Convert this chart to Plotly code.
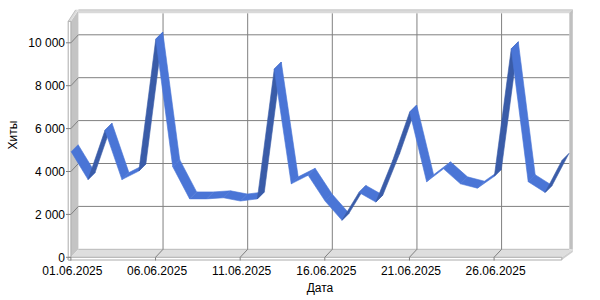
import pandas as pd
import plotly.graph_objects as go

# ---------------- data ----------------
dates = pd.date_range("2025-06-01", "2025-06-30", freq="D")
hits = [4900, 3600, 5900, 3600, 4000, 10150, 4200, 2700, 2700, 2750,
        2600, 2700, 8750, 3400, 3800, 2600, 1700, 3000, 2550, 4500,
        6750, 3500, 4100, 3400, 3200, 3750, 9700, 3500, 3000, 4500]
y_tick_values = [0, 2000, 4000, 6000, 8000, 10000]
y_tick_labels = ["0", "2 000", "4 000", "6 000", "8 000", "10 000"]
x_tick_dates = list(dates[::5])
x_tick_labels = [d.strftime("%d.%m.%Y") for d in x_tick_dates]
y_max = 11000

days = [d.day for d in dates]
x_tick_days = [d.day for d in x_tick_dates]

# ---------------- geometry of the pseudo-3D box (pixels) ----------------
W, H = 600, 300
ML, MR, MT, MB = 66, 26, 8, 38
BACK_L, BACK_R, BACK_B = 78.4, 569.3, 249.3
PPU = 21.45 / 1000.0
PPD = (BACK_R - BACK_L) / (days[-1] - days[0])
DX, DY = 7.5, 8.0          # depth: front plane is left/down of back wall
SLAB = 2.7                 # thickness of the wall edge
BORDER = 3.5               # thickness of back wall border
x_first, x_last = days[0], days[-1]


def X(d, px=0.0):
    return d + px / PPD


def Y(v, px=0.0):
    return v + px / PPU


x_range = [X(x_first, -(BACK_L - ML)), X(x_last, (W - MR) - BACK_R)]
y_range = [Y(0, -((H - MB) - BACK_B)), Y(0, BACK_B - MT)]

shapes = []


def poly(pts, fill, line=None, width=0):
    path = "M " + " L ".join(f"{x:.5f},{y:.3f}" for x, y in pts) + " Z"
    shapes.append(dict(type="path", path=path, xref="x", yref="y",
                       fillcolor=fill, layer="below",
                       line=dict(color=line or fill, width=width)))


def seg(p0, p1, color, width=1):
    shapes.append(dict(type="line", xref="x", yref="y", layer="below",
                       x0=p0[0], y0=p0[1], x1=p1[0], y1=p1[1],
                       line=dict(color=color, width=width)))


GRID = "#808080"
EDGE = "#ababab"

# back wall top border and right border
poly([(X(x_first), Y(y_max)), (X(x_last, BORDER), Y(y_max)),
      (X(x_last, BORDER), Y(y_max, BORDER)), (X(x_first), Y(y_max, BORDER))],
     "#d9d9d9")
seg((X(x_first), Y(y_max, BORDER)), (X(x_last, BORDER), Y(y_max, BORDER)), "#c8c8c8", 1)
poly([(X(x_last), Y(0)), (X(x_last, BORDER), Y(0, -0.5)),
      (X(x_last, BORDER), Y(y_max, BORDER)), (X(x_last), Y(y_max))],
     "#c0c0c0")

# left wall (inner face)
poly([(X(x_first, -DX), Y(0, -DY)), (X(x_first, -DX), Y(y_max, -DY)),
      (X(x_first), Y(y_max, BORDER - 0.5)), (X(x_first), Y(0))],
     "#c4c4c4")
# left wall top
poly([(X(x_first, -DX - SLAB), Y(y_max, -DY)), (X(x_first, -DX), Y(y_max, -DY)),
      (X(x_first), Y(y_max, BORDER)), (X(x_first, -SLAB), Y(y_max, BORDER))],
     "#dcdcdc")
seg((X(x_first, -DX - SLAB), Y(y_max, -DY)), (X(x_first, -SLAB), Y(y_max, BORDER)), "#c0c0c0", 1)

# floor
poly([(X(x_first, -DX), Y(0, -DY)), (X(x_last, -DX), Y(0, -DY)),
      (X(x_last, BORDER), Y(0, -0.5)), (X(x_first), Y(0))],
     "#dedede")
# floor right end face
poly([(X(x_last, -DX), Y(0, -DY)), (X(x_last, -DX), Y(0, -DY - SLAB)),
      (X(x_last, BORDER), Y(0, -SLAB)), (X(x_last, BORDER), Y(0, -0.5))],
     "#cfcfcf")

# front slabs
poly([(X(x_first, -DX - SLAB), Y(0, -DY - SLAB)), (X(x_first, -DX), Y(0, -DY - SLAB)),
      (X(x_first, -DX), Y(y_max, -DY)), (X(x_first, -DX - SLAB), Y(y_max, -DY))],
     "white", EDGE, 1)
poly([(X(x_first, -DX - SLAB), Y(0, -DY - SLAB)), (X(x_last, -DX), Y(0, -DY - SLAB)),
      (X(x_last, -DX), Y(0, -DY)), (X(x_first, -DX - SLAB), Y(0, -DY))],
     "white", EDGE, 1)

# back/floor junction
seg((X(x_first), Y(0)), (X(x_last), Y(0)), "#b8b8b8", 1)

# horizontal gridlines on back wall + left wall
for v in y_tick_values:
    if v > 0:
        seg((X(x_first), Y(v)), (X(x_last), Y(v)), GRID, 1)
        seg((X(x_first), Y(v)), (X(x_first, -DX), Y(v, -DY)), GRID, 1)
    seg((X(x_first, -DX), Y(v, -DY)), (X(x_first, -DX - SLAB - 2.5), Y(v, -DY)), GRID, 1)

# vertical gridlines on back wall + floor
for d in x_tick_days:
    if d > x_first:
        seg((X(d), Y(0)), (X(d), Y(y_max)), GRID, 1)
        seg((X(d), Y(0)), (X(d, -DX), Y(0, -DY)), GRID, 1)
    seg((X(d, -DX), Y(0, -DY)), (X(d, -DX), Y(0, -DY - SLAB - 0.5)), GRID, 1)

# ---------------- ribbon ----------------
LIGHT = "rgb(74,117,214)"
DARK = "rgb(58,92,168)"
CX, CY = -DX / 2, -DY / 2      # ribbon centre (mid depth)
HX, HY = 3.5, 3.5              # half ribbon depth vector (towards back)

fig = go.Figure()
for i in range(len(days) - 1):
    d0, d1 = days[i], days[i + 1]
    v0, v1 = hits[i], hits[i + 1]
    sx = (d1 - d0) * PPD
    sy = (v1 - v0) * PPU
    color = LIGHT if (sx * HY - sy * HX) > 0 else DARK
    xs = [X(d0, CX - HX), X(d1, CX - HX), X(d1, CX + HX), X(d0, CX + HX), X(d0, CX - HX)]
    ys = [Y(v0, CY - HY), Y(v1, CY - HY), Y(v1, CY + HY), Y(v0, CY + HY), Y(v0, CY - HY)]
    fig.add_trace(go.Scatter(x=xs, y=ys, mode="lines", fill="toself",
                             fillcolor=color, line=dict(color=color, width=0.6),
                             hoverinfo="skip", showlegend=False))

FONT = dict(family="Liberation Sans, Arial, sans-serif", size=12, color="black")

fig.update_layout(
    width=W, height=H,
    margin=dict(l=ML, r=MR, t=MT, b=MB),
    paper_bgcolor="white", plot_bgcolor="white",
    font=FONT,
    shapes=shapes,
    showlegend=False,
    xaxis=dict(range=x_range, showgrid=False, zeroline=False, showline=False,
               tickmode="array", tickvals=x_tick_days, ticktext=x_tick_labels,
               ticks="", ticklabelshift=-6, tickfont=FONT,
               title=dict(text="Дата", font=FONT, standoff=6)),
    yaxis=dict(range=y_range, showgrid=False, zeroline=False, showline=False,
               tickmode="array", tickvals=y_tick_values, ticktext=y_tick_labels,
               ticks="", ticklabelshift=8, tickfont=FONT,
               title=dict(text="Хиты", font=FONT, standoff=8)),
)

fig.write_html("out.html")
